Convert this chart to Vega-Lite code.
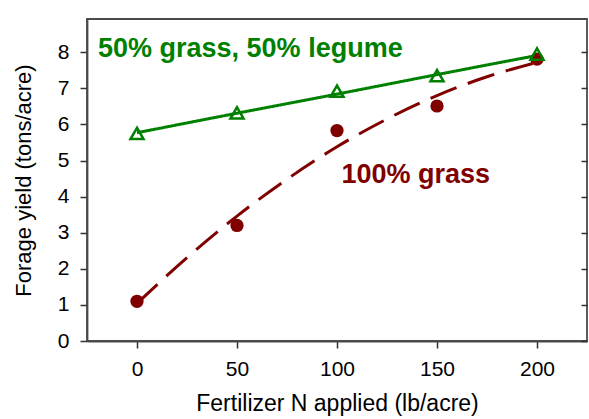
{
  "$schema": "https://vega.github.io/schema/vega-lite/v6.json",
  "width": 500,
  "height": 322,
  "autosize": {"type": "none"},
  "padding": {"left": 87, "top": 19, "right": 2, "bottom": 78},
  "background": "white",
  "config": {
    "font": "Liberation Sans",
    "view": {"stroke": "#4a4a4a", "strokeWidth": 1.8},
    "axis": {
      "grid": false,
      "domainColor": "#4a4a4a",
      "tickColor": "#333333",
      "domainWidth": 1.8,
      "tickWidth": 1.5,
      "labelColor": "#000000",
      "titleColor": "#000000",
      "labelFontSize": 21,
      "titleFontSize": 22,
      "titleFontWeight": "normal"
    }
  },
  "datasets": {
    "obs": [
      {"N": 0, "yield": 1.1, "mix": "100% grass"},
      {"N": 50, "yield": 3.2, "mix": "100% grass"},
      {"N": 100, "yield": 5.83, "mix": "100% grass"},
      {"N": 150, "yield": 6.51, "mix": "100% grass"},
      {"N": 200, "yield": 7.81, "mix": "100% grass"},
      {"N": 0, "yield": 5.75, "mix": "50% grass, 50% legume"},
      {"N": 50, "yield": 6.32, "mix": "50% grass, 50% legume"},
      {"N": 100, "yield": 6.92, "mix": "50% grass, 50% legume"},
      {"N": 150, "yield": 7.35, "mix": "50% grass, 50% legume"},
      {"N": 200, "yield": 7.95, "mix": "50% grass, 50% legume"}
    ],
    "fit": [
      {"N": 0, "yield": 1.04, "mix": "100% grass"},
      {"N": 25, "yield": 2.31, "mix": "100% grass"},
      {"N": 50, "yield": 3.46, "mix": "100% grass"},
      {"N": 75, "yield": 4.48, "mix": "100% grass"},
      {"N": 100, "yield": 5.38, "mix": "100% grass"},
      {"N": 125, "yield": 6.15, "mix": "100% grass"},
      {"N": 150, "yield": 6.8, "mix": "100% grass"},
      {"N": 175, "yield": 7.32, "mix": "100% grass"},
      {"N": 200, "yield": 7.72, "mix": "100% grass"},
      {"N": 0, "yield": 5.77, "mix": "50% grass, 50% legume"},
      {"N": 50, "yield": 6.31, "mix": "50% grass, 50% legume"},
      {"N": 100, "yield": 6.84, "mix": "50% grass, 50% legume"},
      {"N": 150, "yield": 7.38, "mix": "50% grass, 50% legume"},
      {"N": 200, "yield": 7.91, "mix": "50% grass, 50% legume"}
    ],
    "labels": [
      {"N": -19.5, "yield": 7.88, "mix": "50% grass, 50% legume", "label": "50% grass, 50% legume"},
      {"N": 102.2, "yield": 4.37, "mix": "100% grass", "label": "100% grass"}
    ]
  },
  "resolve": {"axis": {"y": "independent"}},
  "layer": [
    {
      "encoding": {
        "x": {
          "field": "N",
          "type": "quantitative",
          "scale": {"domain": [-25, 225], "nice": false, "zero": false},
          "axis": {
            "values": [0, 50, 100, 150, 200],
            "tickSize": 7,
            "labelPadding": 10,
            "titlePadding": 13,
            "titleFontSize": 23,
            "title": "Fertilizer N applied (lb/acre)"
          }
        },
        "y": {
          "field": "yield",
          "type": "quantitative",
          "scale": {"domain": [0, 8.92], "nice": false, "zero": false},
          "axis": {
            "values": [0, 1, 2, 3, 4, 5, 6, 7, 8],
            "tickSize": 7,
            "labelPadding": 11,
            "titlePadding": 22,
            "title": "Forage yield (tons/acre)"
          }
        },
        "color": {
          "field": "mix",
          "type": "nominal",
          "scale": {"domain": ["100% grass", "50% grass, 50% legume"], "range": ["#800000", "#008000"]},
          "legend": null
        }
      },
      "layer": [
        {
          "data": {"name": "fit"},
          "mark": {"type": "line", "strokeWidth": 3, "interpolate": "monotone"},
          "encoding": {
            "strokeDash": {
              "field": "mix",
              "type": "nominal",
              "scale": {"domain": ["100% grass", "50% grass, 50% legume"], "range": [[28, 12], [1, 0]]},
              "legend": null
            }
          }
        },
        {
          "data": {"name": "obs"},
          "transform": [{"filter": "datum.mix === '100% grass'"}],
          "mark": {"type": "point", "shape": "circle", "filled": true, "size": 175, "opacity": 1}
        },
        {
          "data": {"name": "obs"},
          "transform": [{"filter": "datum.mix === '50% grass, 50% legume'"}],
          "mark": {"type": "point", "shape": "triangle-up", "filled": false, "size": 170, "strokeWidth": 2.5, "opacity": 1}
        },
        {
          "data": {"name": "labels"},
          "mark": {"type": "text", "align": "left", "baseline": "alphabetic", "fontSize": 27, "fontWeight": "bold"},
          "encoding": {"text": {"field": "label"}}
        }
      ]
    },
    {
      "data": {"name": "obs"},
      "mark": {"type": "point", "opacity": 0},
      "encoding": {
        "y": {
          "field": "yield",
          "type": "quantitative",
          "scale": {"domain": [0, 8.92], "nice": false, "zero": false},
          "axis": {
            "orient": "right",
            "values": [0, 1, 2, 3, 4, 5, 6, 7, 8],
            "labels": false,
            "domain": false,
            "tickSize": -6,
            "title": null
          }
        }
      }
    }
  ]
}
